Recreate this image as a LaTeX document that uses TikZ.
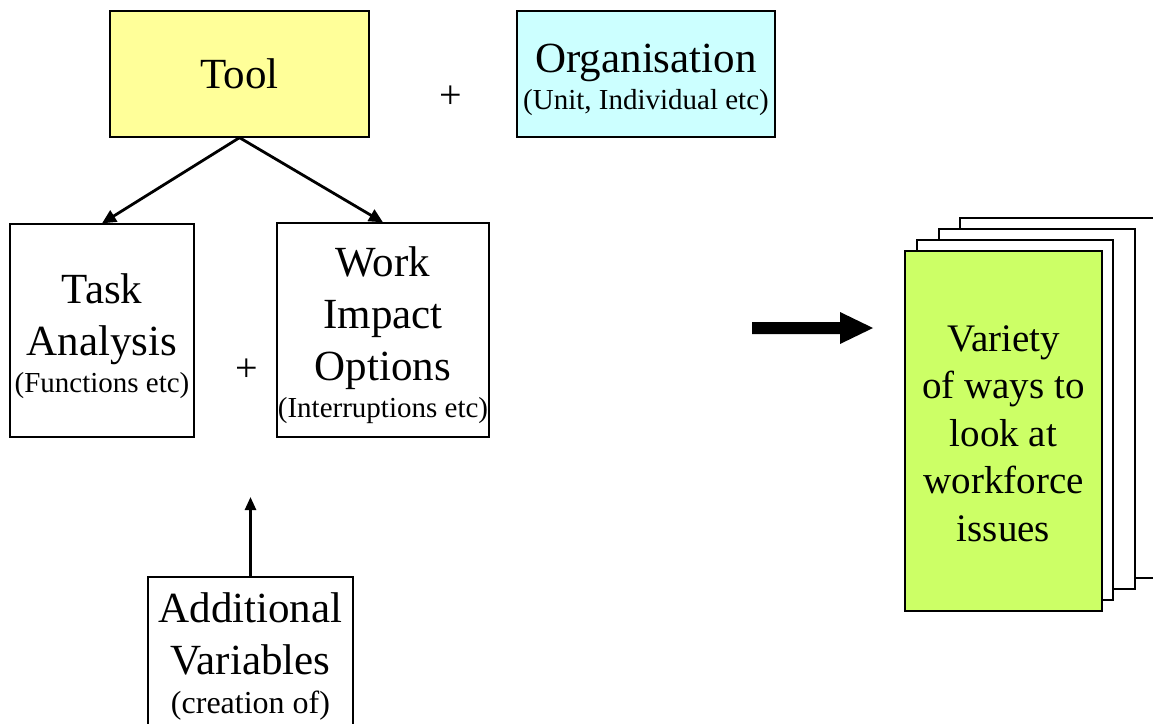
\documentclass[tikz,border=0pt]{standalone}
\usepackage{fontspec}
\setmainfont{Liberation Serif}
\usetikzlibrary{arrows.meta}
\definecolor{toolyellow}{HTML}{FFFF99}
\definecolor{orgcyan}{HTML}{CCFFFF}
\definecolor{pagegreen}{HTML}{CCFF66}
\newcommand{\smalltxt}[1]{{\fontsize{29}{35}\selectfont #1}}
\newcommand{\topgap}{\rule{0pt}{41pt}}
\begin{document}
\begin{tikzpicture}[x=1pt, y=-1pt,
    box/.style={draw=black, line width=1.3pt, inner sep=0pt, align=center, font=\fontsize{43}{52}\selectfont},
    sheet/.style={draw=black, line width=1.3pt, fill=white, minimum width=196pt, minimum height=360pt},
    link/.style={line width=2.8pt, -{Triangle[length=14pt,width=13pt]}}]
    \useasboundingbox (0,0) rectangle (1153,723);
    \node[box, fill=toolyellow, minimum width=259pt, minimum height=126pt] (tool) at (239.5,74) {Tool};
    \node[box, fill=orgcyan, minimum width=258pt, minimum height=126pt] (org) at (646,74)
        {\topgap Organisation\\[-15pt]\smalltxt{(Unit, Individual etc)}};
    \node[box, minimum width=184pt, minimum height=213pt] (task) at (102,330.5)
        {\topgap Task\\Analysis\\[-15pt]\smalltxt{(Functions etc)}};
    \node[box, minimum width=212pt, minimum height=214pt] (work) at (383,330)
        {\topgap Work\\Impact\\Options\\[-15pt]\smalltxt{(Interruptions etc)}};
    \node[box, minimum width=205pt, minimum height=158pt] (extra) at (250.5,656)
        {Additional\\Variables\\[-13pt]{\fontsize{32}{38}\selectfont (creation of)}};
    \node[font=\fontsize{40}{44}\selectfont] (plusA) at (451,97) {+};
    \node[font=\fontsize{40}{44}\selectfont] (plusB) at (247,370) {+};
    \draw[link] (tool.south) -- (task.north);
    \draw[link] (tool.south) -- (work.north);
    \coordinate (extratip) at (250.5,497);
    \draw[line width=2.5pt, -{Triangle[length=13pt,width=11pt]}] (extra.north) -- (extratip);
    \fill (752,322) -- (840,322) -- (840,312) -- (873,328) -- (840,344) -- (840,334) -- (752,334) -- cycle;
    \foreach \px/\py [count=\k] in {1058/398, 1037/409, 1015/420}{
        \node[sheet] (page\k) at (\px,\py) {};
    }
    \node[box, sheet, fill=pagegreen, minimum width=197pt, font=\fontsize{39}{47.5}\selectfont] (front) at (1003.5,431)
        {\rule{0pt}{31pt}Variety\\of ways to\\look at\\workforce\\issues};
\end{tikzpicture}
\end{document}
